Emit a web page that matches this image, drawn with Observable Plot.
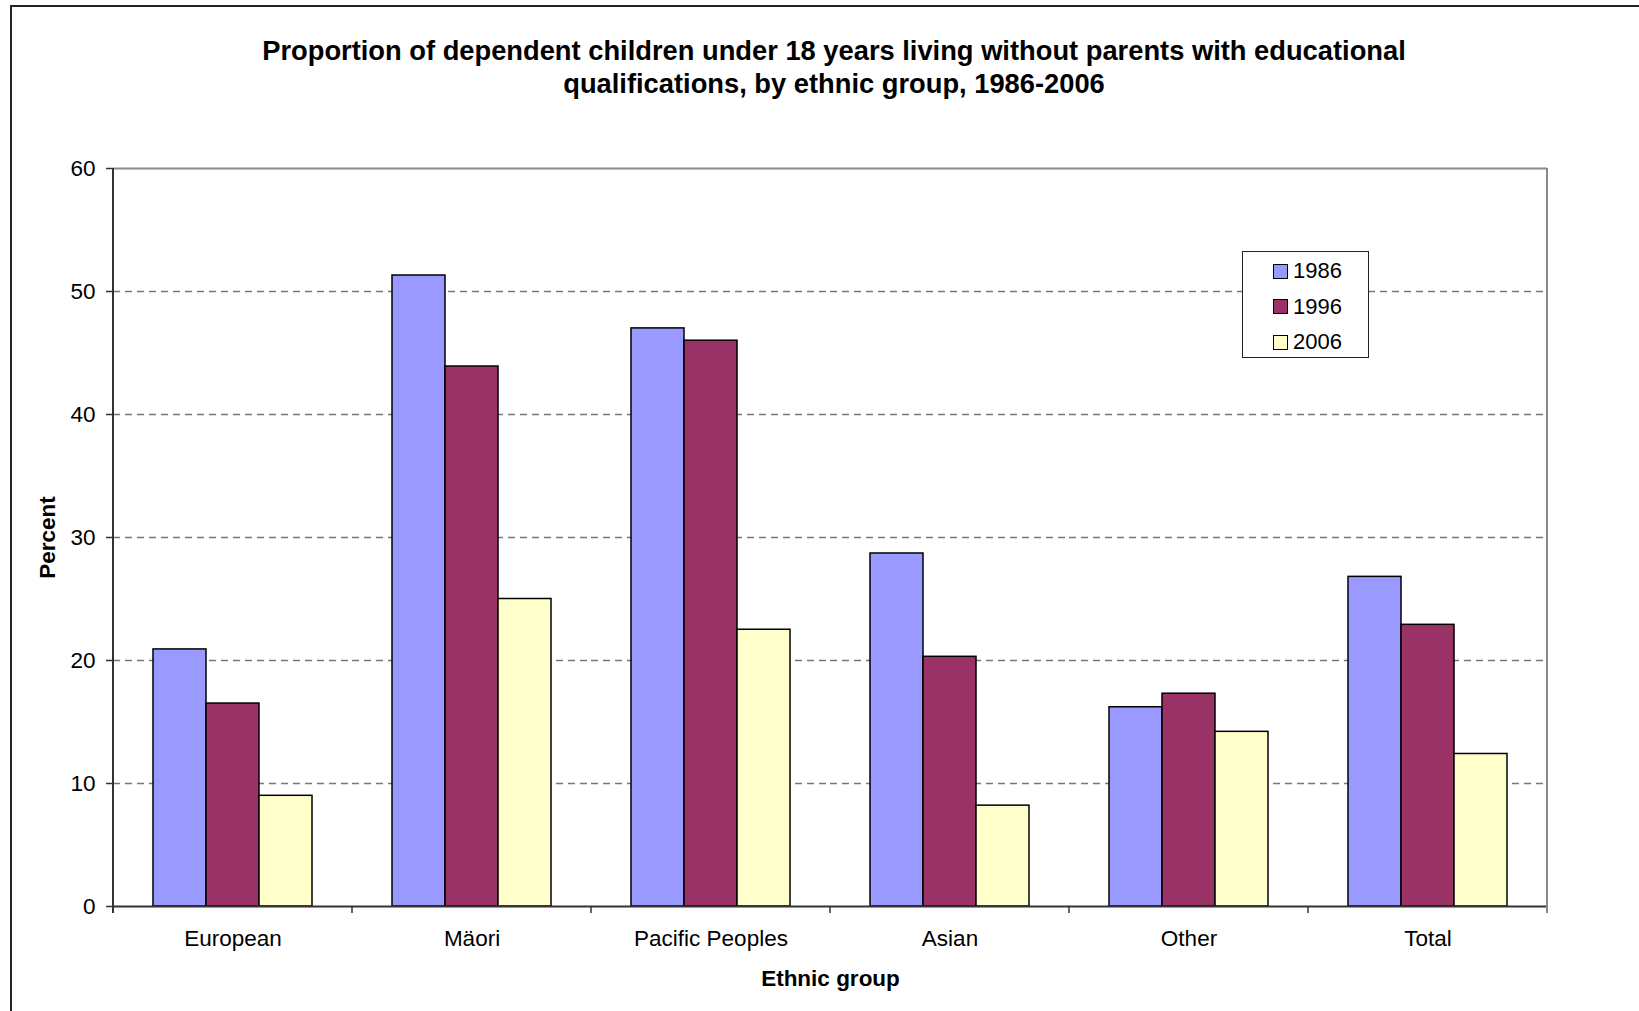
<!DOCTYPE html>
<html>
<head>
<meta charset="utf-8">
<script src="https://cdn.jsdelivr.net/npm/d3@7"></script>
<script src="https://cdn.jsdelivr.net/npm/@observablehq/plot@0.6"></script>
<style>
  html, body { margin: 0; padding: 0; background: #fff; }
  body { width: 1639px; height: 1011px; overflow: hidden; position: relative;
         font-family: "Liberation Sans", Arial, sans-serif; color: #000; }
  #border { position: absolute; left: 10px; top: 5px; width: 1700px; height: 1100px;
            border: 2px solid #222; box-sizing: border-box; }
  #chart { position: absolute; left: 0; top: 0; }
  #title { position: absolute; left: 0; width: 1668px; top: 34px; text-align: center;
           font-weight: bold; font-size: 27.3px; line-height: 33px; }
  #legend { position: absolute; left: 1242px; top: 251px; width: 127px; height: 107px;
            border: 1.5px solid #222; background: #fff; box-sizing: border-box; }
  #legend .row { position: absolute; left: 30px; height: 35.5px; display: flex;
                 align-items: center; font-size: 22px; }
  #legend .sw { width: 13px; height: 13px; border: 1.5px solid #000; margin-right: 5px; }
</style>
</head>
<body>
<div id="border"></div>
<div id="chart"></div>
<div id="title">
  <div>Proportion of dependent children under 18 years living without parents with educational</div>
  <div>qualifications, by ethnic group, 1986-2006</div>
</div>
<div id="legend"></div>
<script>
// Ethnic groups along the horizontal axis
const groups = ["European", "Mäori", "Pacific Peoples", "Asian", "Other", "Total"];
// Census years shown as the bars within each group
const years = ["1986", "1996", "2006"];
// Percent of dependent children living without parents with qualifications
const v1986 = [20.9, 51.3, 47.0, 28.7, 16.2, 26.8];
const v1996 = [16.5, 43.9, 46.0, 20.3, 17.3, 22.9];
const v2006 = [9.0, 25.0, 22.5, 8.2, 14.2, 12.4];
// Axis ticks and gridlines
const yTicks = [0, 10, 20, 30, 40, 50, 60];
const gridTicks = [10, 20, 30, 40, 50];
const yearColors = ["#9999FF", "#993366", "#FFFFCC"];

const seriesByYear = {"1986": v1986, "1996": v1996, "2006": v2006};
const data = groups.flatMap((g, i) =>
  years.map(y => ({group: g, year: y, value: seriesByYear[y][i]})));

const W = 1639, H = 1011;
const chart = Plot.plot({
  width: W,
  height: H,
  marginLeft: 113,
  marginRight: 92,
  marginTop: 168,
  marginBottom: 105,
  style: {fontFamily: "'Liberation Sans', Arial, sans-serif", fontSize: "22.5px", color: "#000", background: "transparent"},
  fx: {domain: groups, padding: 0, label: null},
  x: {domain: years, paddingInner: 0, paddingOuter: 0.75, axis: null},
  y: {domain: [0, 60], axis: null},
  color: {domain: years, range: yearColors},
  marks: [
    Plot.ruleY(gridTicks, {stroke: "#777", strokeWidth: 1.5, strokeDasharray: "7,5"}),
    Plot.ruleY([60], {stroke: "#888", strokeWidth: 2}),
    Plot.barY(data, {fx: "group", x: "year", y: "value", fill: "year",
                     stroke: "#000", strokeWidth: 1.5}),
    Plot.ruleY([0], {stroke: "#333", strokeWidth: 2}),
    Plot.axisY({anchor: "left", ticks: yTicks, tickSize: 7, tickPadding: 11,
                stroke: "#333", strokeWidth: 1.5, label: null, fontSize: 22.5}),
    Plot.axisY({anchor: "left", ticks: [], label: "Percent", labelAnchor: "center",
                labelArrow: "none", labelOffset: 74, fontWeight: "bold", fontSize: 22.5}),
    Plot.axisFx({anchor: "bottom", tickSize: 0, tickPadding: 24, label: null, fontSize: 22.5}),
    Plot.axisFx({anchor: "bottom", ticks: [], label: "Ethnic group", labelAnchor: "center",
                 labelArrow: "none", labelOffset: 79, fontWeight: "bold", fontSize: 22.5})
  ]
});
document.getElementById("chart").appendChild(chart);

// Plot-area edges and Excel-style category separators, placed from the fx and y scales
const fx = chart.scale("fx");
const yS = chart.scale("y");
const edges = groups.map(g => fx.apply(g)).concat([fx.apply(groups[groups.length - 1]) + fx.bandwidth]);
const y0 = yS.apply(0), yTop = yS.apply(60);
const left = edges[0], right = edges[edges.length - 1];
const g = d3.select(chart).append("g");
g.append("line").attr("x1", right).attr("x2", right).attr("y1", yTop).attr("y2", y0 + 7)
  .attr("stroke", "#888").attr("stroke-width", 2);
g.append("line").attr("x1", left).attr("x2", left).attr("y1", yTop).attr("y2", y0 + 7)
  .attr("stroke", "#333").attr("stroke-width", 2);
g.append("g")
  .attr("stroke", "#333").attr("stroke-width", 1.5)
  .selectAll("line").data(edges.slice(1, -1)).join("line")
  .attr("x1", d => d).attr("x2", d => d)
  .attr("y1", y0).attr("y2", y0 + 7);

// Legend built from the color scale
const color = chart.scale("color");
const legend = d3.select("#legend");
color.domain.forEach((yr, i) => {
  const row = legend.append("div").attr("class", "row").style("top", (1.25 + i * 35.5) + "px");
  row.append("div").attr("class", "sw").style("background", color.range[i]);
  row.append("span").text(yr);
});
</script>
</body>
</html>
